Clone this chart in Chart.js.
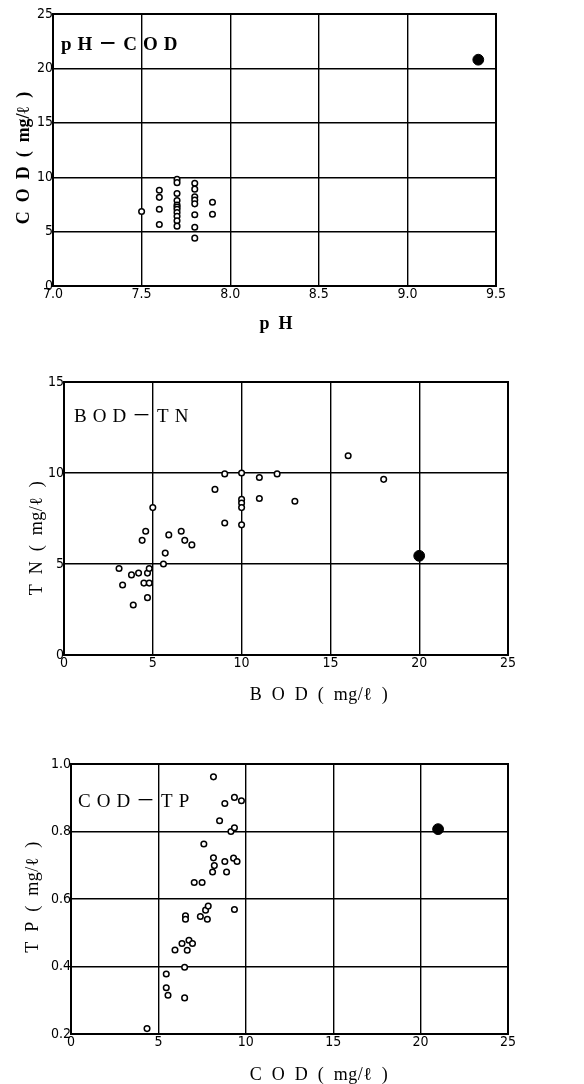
<!DOCTYPE html>
<html>
<head>
<meta charset="utf-8">
<script src="https://cdn.jsdelivr.net/npm/chart.js@4.4.1/dist/chart.umd.min.js"></script>
<style>
html, body { margin: 0; padding: 0; background: #fff; }
#wrap { position: relative; width: 584px; height: 1084px; overflow: hidden; }
canvas { position: absolute; left: 0; }
</style>
</head>
<body>
<div id="wrap">
  <canvas id="c1" width="584" height="340" style="top:0px"></canvas>
  <canvas id="c2" width="584" height="380" style="top:340px"></canvas>
  <canvas id="c3" width="584" height="364" style="top:720px"></canvas>
</div>
<script>
// pH - COD
const phOpen  = [7.5, 7.6, 7.6, 7.6, 7.6, 7.7, 7.7, 7.7, 7.7, 7.7, 7.7, 7.7, 7.7, 7.7, 7.7, 7.7, 7.8, 7.8, 7.8, 7.8, 7.8, 7.8, 7.8, 7.8, 7.9, 7.9];
const codOpen = [6.85, 8.8, 8.15, 7.05, 5.65, 9.8, 9.5, 8.5, 7.85, 7.45, 7.25, 7.05, 6.75, 6.4, 6.0, 5.5, 9.45, 8.9, 8.2, 7.9, 7.55, 6.55, 5.4, 4.4, 7.7, 6.6];
const phFilled  = [9.4];
const codFilled = [20.8];

// BOD - TN
const bodOpen = [3.1, 3.3, 3.8, 3.9, 4.2, 4.4, 4.5, 4.6, 4.7, 4.7, 4.8, 4.8, 5.0, 5.6, 5.7, 5.9, 6.6, 6.8, 7.2, 8.5, 9.05, 9.05, 10, 10, 10, 10, 10, 11, 11, 12, 13, 16, 18];
const tnOpen  = [4.75, 3.85, 4.4, 2.75, 4.5, 6.3, 3.95, 6.8, 4.5, 3.15, 4.75, 3.95, 8.1, 5.0, 5.6, 6.6, 6.8, 6.3, 6.05, 9.1, 9.95, 7.25, 10, 8.55, 8.35, 8.1, 7.15, 9.75, 8.6, 9.95, 8.45, 10.95, 9.65];
const bodFilled = [20];
const tnFilled  = [5.45];

// COD - TP
const codX = [4.35, 5.45, 5.45, 5.55, 5.95, 6.35, 6.5, 6.5, 6.55, 6.55, 6.65, 6.75, 6.95, 7.05, 7.4, 7.5, 7.6, 7.7, 7.8, 7.85, 8.1, 8.15, 8.15, 8.2, 8.5, 8.8, 8.8, 8.9, 9.15, 9.3, 9.35, 9.35, 9.35, 9.5, 9.75];
const tpY  = [0.216, 0.378, 0.337, 0.315, 0.449, 0.468, 0.398, 0.307, 0.55, 0.54, 0.448, 0.478, 0.468, 0.649, 0.548, 0.649, 0.763, 0.567, 0.54, 0.579, 0.68, 0.962, 0.722, 0.699, 0.832, 0.883, 0.711, 0.68, 0.8, 0.721, 0.901, 0.811, 0.569, 0.711, 0.891];
const codXFilled = [21];
const tpYFilled  = [0.807];

const tickFont = { family: "'DejaVu Sans Condensed', 'Liberation Sans Narrow', 'Liberation Sans', sans-serif", size: 14 };
const serif = "'Liberation Serif', 'DejaVu Serif', 'Noto Sans CJK JP', serif";
const sp = '\u2002';

const pts = (xs, ys) => xs.map((x, i) => ({ x: x, y: ys[i] }));

// frame + labels drawn on top
const panelText = {
  id: 'panelText',
  afterDraw(chart, args, o) {
    const ctx = chart.ctx, a = chart.chartArea;
    ctx.save();
    ctx.strokeStyle = '#000';
    ctx.lineWidth = 2;
    ctx.strokeRect(a.left, a.top, a.right - a.left, a.bottom - a.top);
    ctx.fillStyle = '#000';
    ctx.textBaseline = 'middle';
    ctx.font = o.labelFont;
    ctx.letterSpacing = o.labelSpacing;
    ctx.textAlign = 'left';
    ctx.fillText(o.label, a.left + o.labelDx, a.top + o.labelDy);
    ctx.font = o.titleFont;
    ctx.letterSpacing = o.titleSpacing;
    ctx.textAlign = 'center';
    ctx.fillText(o.xTitle, o.xTitleX, o.xTitleY);
    ctx.translate(o.yTitleX, o.yTitleY);
    ctx.rotate(-Math.PI / 2);
    ctx.fillText(o.yTitle, 0, 0);
    ctx.restore();
  }
};

function makeChart(id, openPts, filledPts, ax, box, text) {
  const h = document.getElementById(id).height;
  const gridStyle = { color: '#000', lineWidth: 1.4, drawTicks: false };
  return new Chart(document.getElementById(id), {
    type: 'scatter',
    data: {
      datasets: [
        { data: openPts, pointRadius: 2.8, pointBorderWidth: 1.5, borderColor: '#000', backgroundColor: '#fff', pointHoverRadius: 2.8 },
        { data: filledPts, pointRadius: 5.4, pointBorderWidth: 1, borderColor: '#000', backgroundColor: '#000', pointHoverRadius: 5.4 }
      ]
    },
    options: {
      responsive: false,
      animation: false,
      devicePixelRatio: 1,
      layout: { padding: { left: 0, top: box.top, right: 584 - box.right, bottom: 0 } },
      plugins: { legend: { display: false }, tooltip: { enabled: false }, panelText: text },
      scales: {
        x: {
          type: 'linear', min: ax.xMin, max: ax.xMax,
          ticks: { stepSize: ax.xStep, color: '#000', font: tickFont, padding: 0, maxRotation: 0, autoSkip: false,
                   callback: v => v.toFixed(ax.xDec) },
          grid: gridStyle,
          border: { color: '#000', width: 2 },
          afterFit: s => { s.height = h - box.bottom; }
        },
        y: {
          type: 'linear', min: ax.yMin, max: ax.yMax,
          ticks: { stepSize: ax.yStep, color: '#000', font: tickFont, padding: 0, autoSkip: false,
                   callback: v => v.toFixed(ax.yDec) },
          grid: gridStyle,
          border: { color: '#000', width: 2 },
          afterFit: s => { s.width = box.left; }
        }
      }
    },
    plugins: [panelText]
  });
}

makeChart('c1', pts(phOpen, codOpen), pts(phFilled, codFilled),
  { xMin: 7, xMax: 9.5, xStep: 0.5, xDec: 1, yMin: 0, yMax: 25, yStep: 5, yDec: 0 },
  { left: 53, right: 496, top: 14, bottom: 286 },
  { label: 'pH－COD', labelFont: 'bold 19px ' + serif, labelSpacing: '6px', labelDx: 8, labelDy: 31,
    titleFont: 'bold 18px ' + serif, titleSpacing: '0px',
    xTitle: 'p' + sp + 'H', xTitleX: 276, xTitleY: 324,
    yTitle: ['C', 'O', 'D', '(', 'mg/ℓ', ')'].join(sp), yTitleX: 24, yTitleY: 158 });

makeChart('c2', pts(bodOpen, tnOpen), pts(bodFilled, tnFilled),
  { xMin: 0, xMax: 25, xStep: 5, xDec: 0, yMin: 0, yMax: 15, yStep: 5, yDec: 0 },
  { left: 64, right: 508, top: 42, bottom: 315 },
  { label: 'BOD－TN', labelFont: '19px ' + serif, labelSpacing: '6px', labelDx: 10, labelDy: 35,
    titleFont: '18px ' + serif, titleSpacing: '0.5px',
    xTitle: ['B', 'O', 'D', '(', 'mg/ℓ', ')'].join(sp), xTitleX: 319, xTitleY: 355,
    yTitle: ['T', 'N', '(', 'mg/ℓ', ')'].join(sp), yTitleX: 37, yTitleY: 198 });

makeChart('c3', pts(codX, tpY), pts(codXFilled, tpYFilled),
  { xMin: 0, xMax: 25, xStep: 5, xDec: 0, yMin: 0.2, yMax: 1.0, yStep: 0.2, yDec: 1 },
  { left: 71, right: 508, top: 44, bottom: 314 },
  { label: 'COD－TP', labelFont: '19px ' + serif, labelSpacing: '6px', labelDx: 7, labelDy: 38,
    titleFont: '18px ' + serif, titleSpacing: '0.5px',
    xTitle: ['C', 'O', 'D', '(', 'mg/ℓ', ')'].join(sp), xTitleX: 319, xTitleY: 355,
    yTitle: ['T', 'P', '(', 'mg/ℓ', ')'].join(sp), yTitleX: 33, yTitleY: 177 });
</script>
</body>
</html>
